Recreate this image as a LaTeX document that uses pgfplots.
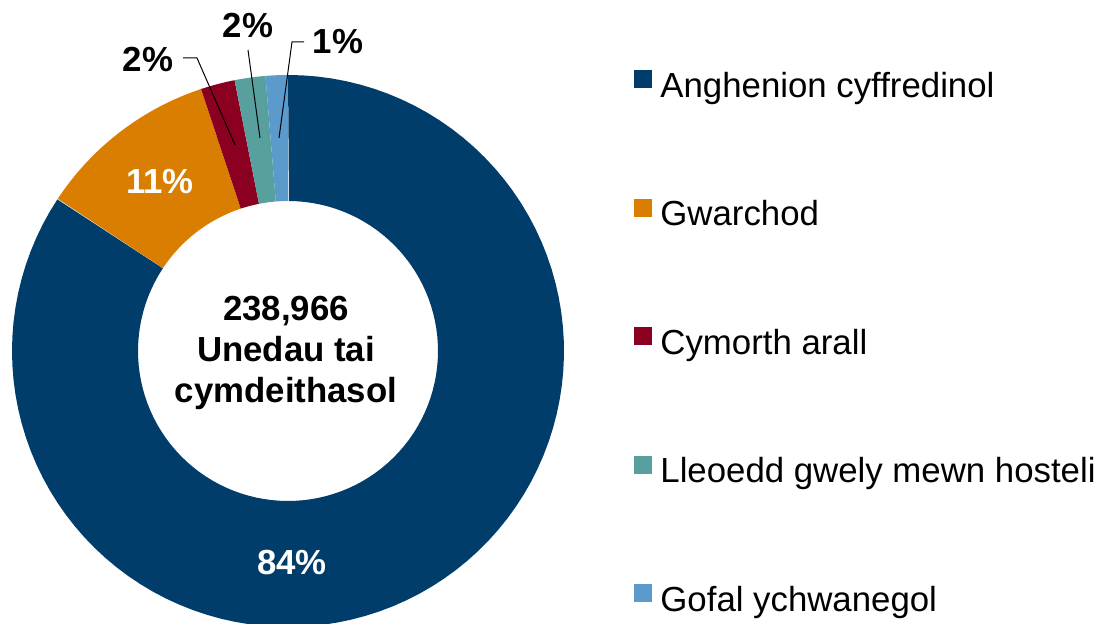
\documentclass[border=0pt]{standalone}
\usepackage{fontspec}
\setmainfont{Liberation Sans}
\usepackage{pgfplots}
\usepackage{pgfplotstable}
\pgfplotsset{compat=1.18}

\definecolor{c0}{RGB}{0,61,107}
\definecolor{c1}{RGB}{217,126,0}
\definecolor{c2}{RGB}{139,0,32}
\definecolor{c3}{RGB}{88,160,158}
\definecolor{c4}{RGB}{91,155,204}

% share of social housing units (%)
\pgfplotstableread{
label value
Anghenion 84.3
Gwarchod 10.6
Cymorth 2.0
Lleoedd 1.8
Gofal 1.3
}\slices

\newcommand\chartfont{\fontsize{17.4}{20.5}\selectfont}

\begin{document}
\begin{tikzpicture}
\useasboundingbox (0,0) rectangle (551pt,312pt);

% start/end angles, clockwise from the top
\xdef\cum{90}
\foreach \i in {0,...,4} {
  \pgfplotstablegetelem{\i}{value}\of\slices
  \pgfmathsetmacro\a{\cum}
  \pgfmathsetmacro\b{\cum-3.6*\pgfplotsretval}
  \expandafter\xdef\csname sa\i\endcsname{\a}
  \expandafter\xdef\csname sb\i\endcsname{\b}
  \xdef\cum{\b}
}

\begin{axis}[
  x=0.5pt, y=0.5pt,
  xmin=0, xmax=1102, ymin=0, ymax=624,
  scale only axis, hide axis,
  legend cell align=left,
  legend style={at={(axis cs:634,554)}, anchor=north west,
    draw=none, fill=none, inner sep=0pt, row sep=46.75pt, column sep=0pt,
    nodes={inner sep=0pt, font=\chartfont, text height=13pt, text depth=4pt}},
  legend image code/.code={\fill[#1] (0pt,0pt) rectangle (9pt,9pt);
    \path (13pt,0pt);},
]
\pgfplotsinvokeforeach{0,...,4}{
  \addplot[fill=c#1, draw=none, variable=\t,
    samples at={0,0.01,...,1,1.0001,1.01,...,2}]
    ({288 + ifthenelse(\t<1.00005,276,150)*cos(ifthenelse(\t<1.00005,
        \csname sa#1\endcsname+(\csname sb#1\endcsname-\csname sa#1\endcsname)*\t,
        \csname sb#1\endcsname+(\csname sa#1\endcsname-\csname sb#1\endcsname)*(\t-1)))},
     {273 + ifthenelse(\t<1.00005,276,150)*sin(ifthenelse(\t<1.00005,
        \csname sa#1\endcsname+(\csname sb#1\endcsname-\csname sa#1\endcsname)*\t,
        \csname sb#1\endcsname+(\csname sa#1\endcsname-\csname sb#1\endcsname)*(\t-1)))});
}
\legend{Anghenion cyffredinol, Gwarchod, Cymorth arall,
  Lleoedd gwely mewn hosteli, Gofal ychwanegol}

% leader lines for the small slices
\addplot[forget plot, black, line width=0.5pt] coordinates {(183,566) (197,566) (235,479)};
\addplot[forget plot, black, line width=0.5pt] coordinates {(248,574) (260,486)};
\addplot[forget plot, black, line width=0.5pt] coordinates {(304,582) (292,582) (279,486)};

\node[white, font=\chartfont\bfseries] at (axis cs:292,61) {84\%};
\node[white, font=\chartfont\bfseries] at (axis cs:160,442) {11\%};
\node[font=\chartfont\bfseries] at (axis cs:148,564) {2\%};
\node[font=\chartfont\bfseries] at (axis cs:248,598) {2\%};
\node[font=\chartfont\bfseries] at (axis cs:338,582) {1\%};
\node[font=\chartfont\bfseries, align=center] at (axis cs:286,271)
  {238,966\\Unedau tai\\cymdeithasol};
\end{axis}
\end{tikzpicture}
\end{document}
